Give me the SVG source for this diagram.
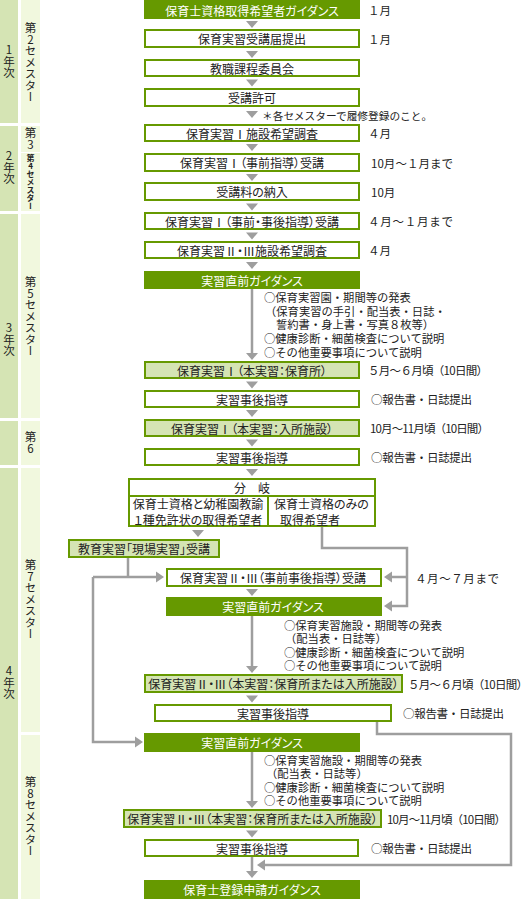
<svg xmlns="http://www.w3.org/2000/svg" width="530" height="899" viewBox="0 0 530 899">
<style>
text{font-family:"Noto Sans CJK JP","Noto Sans",sans-serif;font-size:12px;fill:#222;dominant-baseline:central}
.b text{font-feature-settings:"palt"}
.c{text-anchor:middle}
.w{fill:#fff}
.g{fill:#669900}
.bx{fill:#fff;stroke:#669900;stroke-width:2}
.lt{fill:#d5e4b4;stroke:#669900;stroke-width:2}
.c1{fill:#d5e4b4}
.c2{fill:#f1f8de}
.v{writing-mode:vertical-rl;text-orientation:upright;font-size:11.5px}
.ln{fill:none;stroke:#9e9e9e;stroke-width:2.5}
.ah{fill:#9e9e9e}
.n{font-size:11.3px}
.r{font-size:11.5px}
</style>
<g id="columns">
<rect class="c1" x="0" y="0" width="18" height="123"/>
<rect class="c1" x="0" y="126" width="18" height="85"/>
<rect class="c1" x="0" y="214" width="18" height="204"/>
<rect class="c1" x="0" y="421" width="18" height="44"/>
<rect class="c1" x="0" y="468" width="18" height="431"/>
<rect class="c2" x="21" y="0" width="19" height="123"/>
<rect class="c2" x="21" y="126" width="19" height="26"/>
<rect class="c2" x="21" y="153" width="19" height="58"/>
<rect class="c2" x="21" y="214" width="19" height="204"/>
<rect class="c2" x="21" y="421" width="19" height="44"/>
<rect class="c2" x="21" y="468" width="19" height="264"/>
<rect class="c2" x="21" y="735" width="19" height="164"/>
<text class="v" x="9" y="44">1年次</text>
<text class="v" x="9" y="150">2年次</text>
<text class="v" x="9" y="322">3年次</text>
<text class="v" x="9" y="665">4年次</text>
<text class="v" x="30.5" y="22">第2セメスター</text>
<text class="v" x="30.5" y="127">第3</text>
<text class="v" x="30.5" y="154" style="font-size:8px;font-weight:bold">第4セメスター</text>
<text class="v" x="30.5" y="276">第5セメスター</text>
<text class="v" x="30.5" y="431">第6</text>
<text class="v" x="30.5" y="559">第7セメスター</text>
<text class="v" x="30.5" y="776">第8セメスター</text>
</g>
<g id="connectors">
<path class="ah" d="M246,21h12l-6,7z M246,51h12l-6,7z M246,79.5h12l-6,7z M246,111h12l-6,7z M246,144h12l-6,7z M246,174h12l-6,7z M246,203.5h12l-6,7z M246,232.5h12l-6,7z M246,262h12l-6,7z M246,381.5h12l-6,7z M246,410h12l-6,7z M246,439.5h12l-6,7z M246,469h12l-6,7z M192,530h12l-6,7z M246,589h12l-6,7z M246,695.5h12l-6,7z M246,830.5h12l-6,7z"/>
<path class="ln" d="M252,289V355 M252,616V667 M252,752V802 M252,857V872"/>
<path class="ah" d="M246,353h12l-6,7z M246,666h12l-6,7z M246,801h12l-6,7z M246,871h12l-6,7z"/>
<path class="ln" d="M128,558V577 M93,577H157 M93,577V742H136"/>
<path class="ah" d="M156,571.5L164,577L156,582.5z M135,736.5L143,742L135,747.5z"/>
<path class="ln" d="M322,527V548H407V606H391 M407,577H391"/>
<path class="ah" d="M392,571.5L384,577L392,582.5z M392,600.5L384,606L392,611.5z"/>
<path class="ln" d="M377,722V734H511V865H264"/>
<path class="ah" d="M265,859.5L257,865L265,870.5z"/>
</g>
<g id="n1" class="b"><rect class="g" x="144" y="0" width="216" height="19"/><text class="c w" x="252" y="10">保育士資格取得希望者ガイダンス</text></g>
<g id="n2" class="b"><rect class="bx" x="145" y="30" width="214" height="17"/><text class="c" x="252" y="38.5">保育実習受講届提出</text></g>
<g id="n3" class="b"><rect class="bx" x="145" y="60" width="214" height="16"/><text class="c" x="252" y="68">教職課程委員会</text></g>
<g id="n4" class="b"><rect class="bx" x="145" y="89" width="214" height="17"/><text class="c" x="252" y="97.5">受講許可</text></g>
<g id="n5" class="b"><rect class="bx" x="145" y="125" width="214" height="16"/><text class="c" x="252" y="133">保育実習Ⅰ施設希望調査</text></g>
<g id="n6" class="b"><rect class="bx" x="145" y="154" width="214" height="17"/><text class="c" x="252" y="162.5">保育実習Ⅰ（事前指導）受講</text></g>
<g id="n7" class="b"><rect class="bx" x="145" y="183" width="214" height="17"/><text class="c" x="252" y="191.5">受講料の納入</text></g>
<g id="n8" class="b"><rect class="bx" x="145" y="213" width="214" height="16"/><text class="c" x="252" y="221">保育実習Ⅰ（事前・事後指導）受講</text></g>
<g id="n9" class="b"><rect class="bx" x="145" y="242" width="214" height="16"/><text class="c" x="252" y="250">保育実習Ⅱ・Ⅲ施設希望調査</text></g>
<g id="n10" class="b"><rect class="g" x="144" y="271" width="216" height="18"/><text class="c w" x="252" y="280">実習直前ガイダンス</text></g>
<g id="n11" class="b"><rect class="lt" x="145" y="362" width="214" height="16"/><text class="c" x="252" y="370">保育実習Ⅰ（本実習：保育所）</text></g>
<g id="n12" class="b"><rect class="bx" x="145" y="391" width="214" height="16"/><text class="c" x="252" y="399">実習事後指導</text></g>
<g id="n13" class="b"><rect class="lt" x="145" y="420" width="214" height="16"/><text class="c" x="252" y="428">保育実習Ⅰ（本実習：入所施設）</text></g>
<g id="n14" class="b"><rect class="bx" x="145" y="449" width="214" height="16"/><text class="c" x="252" y="457">実習事後指導</text></g>
<g id="n15" class="b"><rect class="bx" x="129" y="479" width="246" height="47"/><path d="M129,496H375 M268,496V526" stroke="#669900" stroke-width="2" fill="none"/>
<text class="c" x="252" y="487.5">分　岐</text>
<text class="c" x="198" y="503.5">保育士資格と幼稚園教諭</text>
<text class="c" x="198" y="519">１種免許状の取得希望者</text>
<text x="274" y="503.5">保育士資格のみの</text>
<text x="280" y="519">取得希望者</text></g>
<g id="n16" class="b"><rect class="lt" x="69" y="540" width="150" height="17"/><text class="c" x="144" y="548.5">教育実習「現場実習」受講</text></g>
<g id="n17" class="b"><rect class="bx" x="167" y="569" width="214" height="17"/><text class="c" x="273" y="577.5">保育実習Ⅱ・Ⅲ（事前事後指導）受講</text></g>
<g id="n18" class="b"><rect class="g" x="166" y="597" width="216" height="19"/><text class="c w" x="273" y="606.5">実習直前ガイダンス</text></g>
<g id="n19" class="b"><rect class="lt" x="145" y="675" width="257" height="17"/><text class="c" x="273.5" y="683.5">保育実習Ⅱ・Ⅲ（本実習：保育所または入所施設）</text></g>
<g id="n20" class="b"><rect class="bx" x="155" y="705" width="236" height="16"/><text class="c" x="273" y="713">実習事後指導</text></g>
<g id="n21" class="b"><rect class="g" x="144" y="733" width="216" height="19"/><text class="c w" x="252" y="742.5">実習直前ガイダンス</text></g>
<g id="n22" class="b"><rect class="lt" x="124" y="810" width="257" height="17"/><text class="c" x="252.5" y="818.5">保育実習Ⅱ・Ⅲ（本実習：保育所または入所施設）</text></g>
<g id="n23" class="b"><rect class="bx" x="145" y="840" width="213" height="16"/><text class="c" x="252" y="848">実習事後指導</text></g>
<g id="n24" class="b"><rect class="g" x="144" y="880" width="216" height="19"/><text class="c w" x="252" y="889.5">保育士登録申請ガイダンス</text></g>
<g id="labels">
<text class="r" x="368" y="10">１月</text>
<text class="r" x="368" y="38.5">１月</text>
<text x="262" y="115" style="font-size:10.7px">＊各セメスターで履修登録のこと。</text>
<text class="r" x="368" y="133">４月</text>
<text class="r" x="371" y="162.5" textLength="82">10月～１月まで</text>
<text class="r" x="371" y="191.5">10月</text>
<text class="r" x="368" y="221" textLength="85">４月～１月まで</text>
<text class="r" x="368" y="250">４月</text>
<text class="n" x="264" y="297">○保育実習園・期間等の発表</text>
<text class="n" x="265" y="310.5">（保育実習の手引・配当表・日誌・</text>
<text class="n" x="276" y="324">誓約書・身上書・写真８枚等）</text>
<text class="n" x="264" y="338">○健康診断・細菌検査について説明</text>
<text class="n" x="264" y="352">○その他重要事項について説明</text>
<text class="r" x="368" y="370" textLength="120">５月～６月頃（10日間）</text>
<text class="r" x="371" y="399" textLength="101">○報告書・日誌提出</text>
<text class="r" x="370" y="428" textLength="119">10月～11月頃（10日間）</text>
<text class="r" x="371" y="457" textLength="101">○報告書・日誌提出</text>
<text class="r" x="415" y="577.5" textLength="84">４月～７月まで</text>
<text class="n" x="284" y="625">○保育実習施設・期間等の発表</text>
<text class="n" x="285" y="638">（配当表・日誌等）</text>
<text class="n" x="284" y="652">○健康診断・細菌検査について説明</text>
<text class="n" x="284" y="665">○その他重要事項について説明</text>
<text class="r" x="408" y="683.5" textLength="120">５月～６月頃（10日間）</text>
<text class="r" x="403" y="713" textLength="101">○報告書・日誌提出</text>
<text class="n" x="264" y="760">○保育実習施設・期間等の発表</text>
<text class="n" x="266" y="773">（配当表・日誌等）</text>
<text class="n" x="264" y="787">○健康診断・細菌検査について説明</text>
<text class="n" x="264" y="800">○その他重要事項について説明</text>
<text class="r" x="387" y="818.5" textLength="119">10月～11月頃（10日間）</text>
<text class="r" x="371" y="848" textLength="101">○報告書・日誌提出</text>
</g>
</svg>
